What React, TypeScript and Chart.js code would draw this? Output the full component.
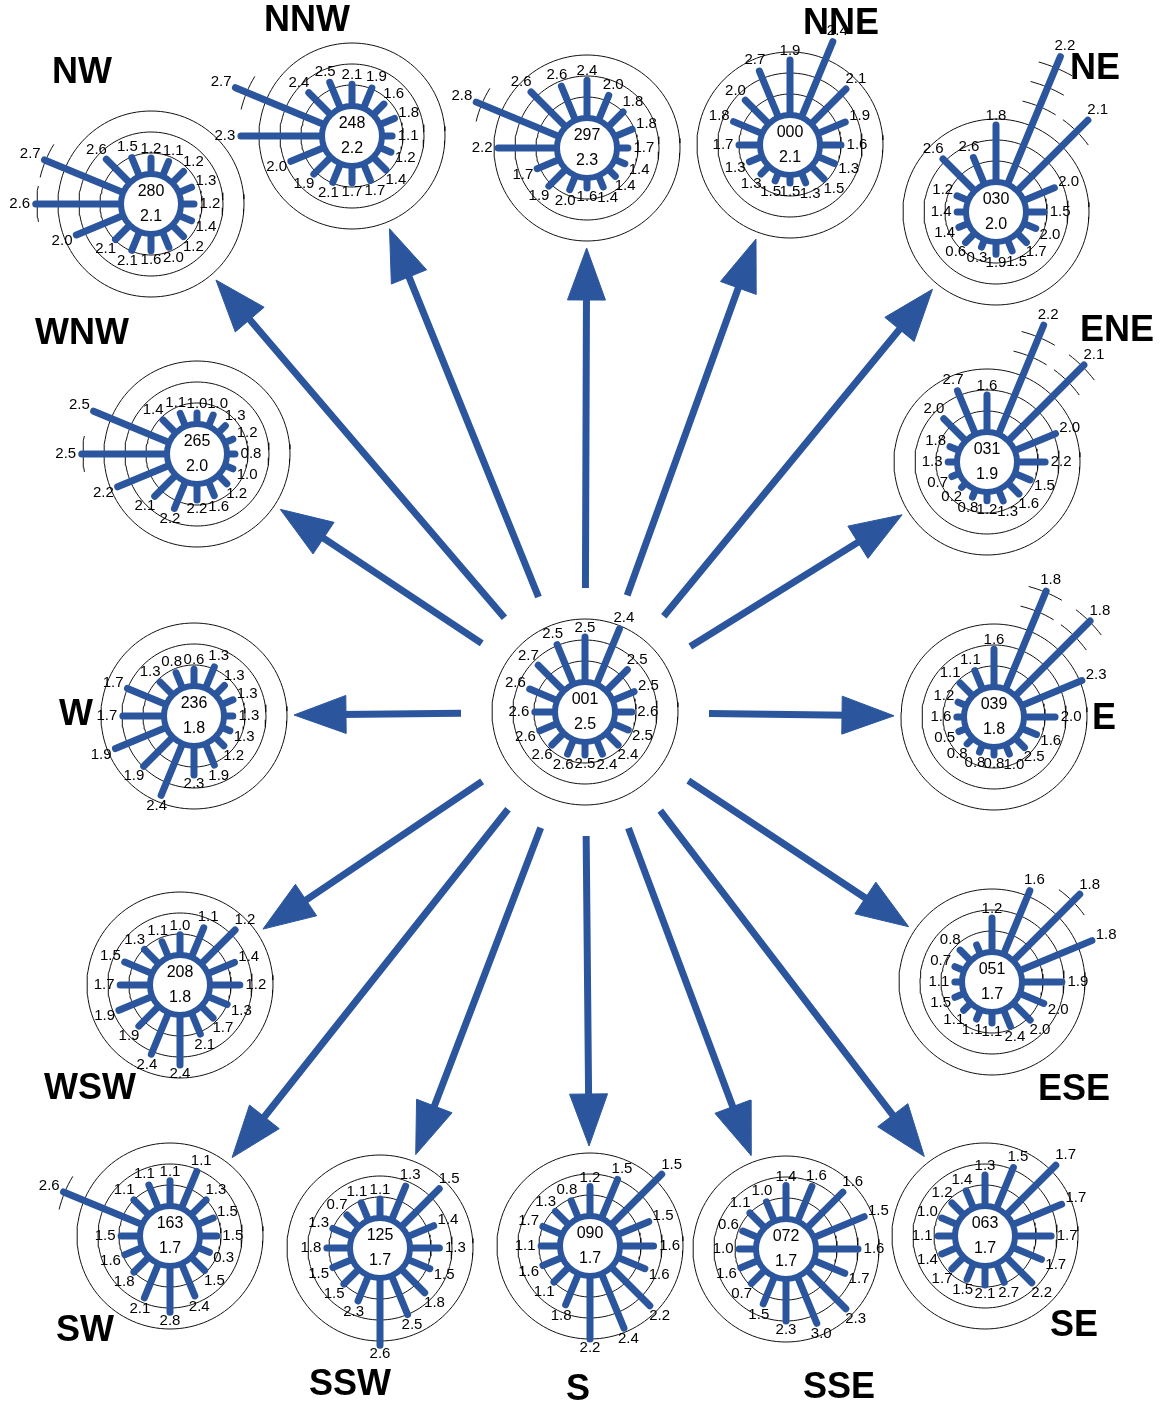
import React, { useEffect, useRef } from 'react';
import { Chart, registerables } from 'chart.js';

Chart.register(...registerables);

const BLUE = '#2b569e';
const FONT = '"Liberation Sans", Arial, sans-serif';

// 16 spoke directions, clockwise from north
const compass16 = ['N', 'NNE', 'NE', 'ENE', 'E', 'ESE', 'SE', 'SSE', 'S', 'SSW', 'SW', 'WSW', 'W', 'WNW', 'NW', 'NNW'];

// roses: central one, then the surrounding ones
const roseKeys = ['C', 'NW', 'NNW', 'N', 'NNE', 'NE', 'ENE', 'E', 'ESE', 'SE', 'SSE', 'S', 'SSW', 'SW', 'WSW', 'W', 'WNW'];
const roseCodes = ['001', '280', '248', '297', '000', '030', '031', '039', '051', '063', '072', '090', '125', '163', '208', '236', '265'];
const roseMeans = [2.5, 2.1, 2.2, 2.3, 2.1, 2.0, 1.9, 1.8, 1.7, 1.7, 1.7, 1.7, 1.7, 1.7, 1.8, 1.8, 2.0];

// mean speed per direction (N .. NNW) and frequency (%) per direction
const speedC = [2.5, 2.4, 2.5, 2.5, 2.6, 2.5, 2.4, 2.4, 2.5, 2.6, 2.6, 2.6, 2.6, 2.6, 2.7, 2.5];
const freqC = [10.7, 14.3, 7.1, 5.5, 4, 4, 4, 3.7, 3.1, 3.7, 4, 4.5, 4.8, 7.1, 8.6, 10.2];

const speedNW = [1.2, 1.1, 1.2, 1.3, 1.2, 1.4, 1.2, 2.0, 1.6, 2.1, 2.1, 2.0, 2.6, 2.7, 2.6, 1.5];
const freqNW = [3.8, 3.8, 3.8, 3.3, 3.1, 3.3, 3.8, 4, 4, 4.8, 4.8, 12.1, 20.3, 20.3, 7.9, 4.8];

const speedNNW = [2.1, 1.9, 1.6, 1.8, 1.1, 1.2, 1.4, 1.7, 1.7, 2.1, 1.9, 2.0, 2.3, 2.7, 2.4, 2.5];
const freqNNW = [5.2, 5.2, 3.6, 3.8, 2.4, 2.9, 4.3, 4.3, 4, 4.8, 5.7, 8.6, 19.3, 22.9, 7.4, 6.7];

const speedN = [2.4, 2.0, 1.8, 1.8, 1.7, 1.4, 1.4, 1.4, 1.6, 2.0, 1.9, 1.7, 2.2, 2.8, 2.6, 2.6];
const freqN = [9, 6.4, 5, 4.5, 2.6, 2.6, 2.4, 2.9, 2.4, 3.6, 5.7, 5.7, 14, 21.4, 11.7, 8.8];

const speedNNE = [1.9, 2.4, 2.1, 1.9, 1.6, 1.3, 1.5, 1.3, 1.5, 1.5, 1.3, 1.3, 1.7, 1.8, 2.0, 2.7];
const freqNNE = [13.1, 19.5, 11.7, 7.1, 5, 4.3, 4.3, 2.6, 1.9, 2.1, 2.6, 3.3, 5, 7.4, 7.9, 11.9];

const speedNE = [1.8, 2.2, 2.1, 2.0, 1.5, 2.0, 1.7, 1.5, 1.9, 0.3, 0.6, 1.4, 1.4, 1.2, 2.6, 2.6];
const freqNE = [13.6, 32.9, 23.8, 7.9, 4.3, 3.1, 3.1, 2.9, 2.9, 1.9, 3.1, 2.4, 2.1, 2.9, 10.7, 6.9];

const speedENE = [1.6, 2.2, 2.1, 2.0, 2.2, 1.5, 1.6, 1.3, 1.2, 0.8, 0.2, 0.7, 1.3, 1.8, 2.0, 2.7];
const freqENE = [8.8, 28.1, 25.5, 10.5, 6.7, 4, 3.6, 2.9, 2.1, 1.9, 1.4, 1.9, 2.1, 2.4, 7.4, 11.2];

const speedE = [1.6, 1.8, 1.8, 2.3, 2.0, 1.6, 2.5, 1.0, 0.8, 0.8, 0.8, 0.5, 1.6, 1.2, 1.1, 1.1];
const freqE = [9, 25.3, 25.2, 15.5, 7.4, 3.8, 3.1, 2.4, 1.9, 1.9, 1.9, 1.9, 1.7, 2.1, 4.3, 4.8];

const speedESE = [1.2, 1.6, 1.8, 1.8, 1.9, 2.0, 2.0, 2.4, 1.1, 1.1, 1.1, 1.5, 1.1, 0.7, 0.8, null];
const freqESE = [8.1, 16.4, 22.4, 18.6, 9.5, 6.2, 5.7, 4.3, 2.6, 2.4, 2.4, 2.4, 1.7, 2.4, 3.6, 2.4];

const speedSE = [1.3, 1.5, 1.7, 1.7, 1.7, 1.7, 2.2, 2.7, 2.1, 1.5, 1.7, 1.4, 1.1, 1.0, 1.2, 1.4];
const freqSE = [7.4, 10.5, 16.7, 12.6, 8.6, 7.4, 8.6, 4.8, 4.5, 4, 4, 4, 4, 4, 4, 4.5];

const speedSSE = [1.4, 1.6, 1.6, 1.5, 1.6, 1.7, 2.3, 3.0, 2.3, 1.5, 0.7, 1.6, 1.0, 0.6, 1.1, 1.0];
const freqSSE = [8, 9, 12, 13, 10, 8, 13, 12, 10, 7, 4.5, 4.5, 4, 4, 5, 5];

const speedS = [1.2, 1.5, 1.5, 1.5, 1.6, 1.6, 2.2, 2.4, 2.2, 1.8, 1.1, 1.6, 1.1, 1.7, 1.3, 0.8];
const freqS = [7, 10, 17, 8, 8, 7, 13, 14, 15, 8, 5, 5, 4.5, 5, 4.5, 4.5];

const speedSSW = [1.1, 1.3, 1.5, 1.4, 1.3, 1.5, 1.8, 2.5, 2.6, 2.3, 1.5, 1.5, 1.8, 1.3, 0.7, 1.1];
const freqSSW = [4.5, 8.8, 12.8, 6.7, 7, 5.7, 7.9, 10, 16, 6.5, 5, 5, 5.5, 5, 4, 4.5];

const speedSW = [1.1, 1.1, 1.3, 1.5, 1.5, 0.3, 1.5, 2.4, 2.8, 2.1, 1.8, 1.6, 1.5, 2.6, 1.1, 1.1];
const freqSW = [6, 9.5, 5, 4, 4, 3, 4.5, 8.3, 11, 8.8, 5, 4.5, 4.5, 20.3, 5, 6];

const speedWSW = [1.0, 1.1, 1.2, 1.4, 1.2, 1.3, 1.7, 2.1, 2.4, 2.4, 1.9, 1.9, 1.7, 1.5, 1.3, 1.1];
const freqWSW = [4.8, 7.6, 11.4, 6.9, 7.1, 5, 4, 5.5, 11.9, 10.7, 6.7, 8.6, 7.1, 7.1, 4.8, 4];

const speedW = [0.6, 1.3, 1.3, 1.3, 1.3, 1.3, 1.2, 1.9, 2.3, 2.4, 1.9, 1.9, 1.7, 1.7, 1.3, 0.8];
const freqW = [4, 5.5, 3.1, 2.9, 2.1, 2.1, 2.9, 5.5, 6.9, 13.3, 9.8, 13.1, 9.8, 10, 4.3, 4];

const speedWNW = [1.0, 1.0, 1.3, 1.2, 0.8, 1.0, 1.2, 1.6, 2.2, 2.2, 2.1, 2.2, 2.5, 2.5, 1.4, 1.1];
const freqWNW = [2.6, 2.9, 2.4, 2.1, 1.9, 2.1, 2.9, 3.6, 3.8, 6.9, 7.1, 13.3, 20.3, 19.5, 4.3, 3.3];

const roseSpeeds = [speedC, speedNW, speedNNW, speedN, speedNNE, speedNE, speedENE, speedE, speedESE, speedSE, speedSSE, speedS, speedSSW, speedSW, speedWSW, speedW, speedWNW];
const roseFreqs = [freqC, freqNW, freqNNW, freqN, freqNNE, freqNE, freqENE, freqE, freqESE, freqSE, freqSSE, freqS, freqSSW, freqSW, freqWSW, freqW, freqWNW];

// frequency rings drawn around each rose (%)
const ringLevels = [5, 10, 15];
const tickStep = 5;

// ---------- layout (page pixels) ----------
const roseCenters: [number, number][] = [
  [585, 712], [151, 204], [352, 136], [587, 148], [790, 145], [996, 212], [987, 462], [994, 717],
  [992, 982], [985, 1236], [786, 1249], [590, 1246], [380, 1248], [170, 1236], [180, 985], [194, 716], [197, 454],
];
const dirLabels: { t: string; x: number; y: number }[] = [
  { t: 'NW', x: 82, y: 73 }, { t: 'NNW', x: 307, y: 21 }, { t: 'NNE', x: 841, y: 24 }, { t: 'NE', x: 1095, y: 69 },
  { t: 'WNW', x: 82, y: 334 }, { t: 'ENE', x: 1117, y: 331 }, { t: 'W', x: 76, y: 715 }, { t: 'E', x: 1104, y: 719 },
  { t: 'WSW', x: 90, y: 1089 }, { t: 'ESE', x: 1074, y: 1090 }, { t: 'SW', x: 85, y: 1331 }, { t: 'SSW', x: 350, y: 1385 },
  { t: 'S', x: 578, y: 1390 }, { t: 'SSE', x: 839, y: 1388 }, { t: 'SE', x: 1074, y: 1326 },
];
const HUB_R = 30;
const PX_PER_PCT = 4.2;
const ARROW_START = 124;
const ARROW_END = 100;
const HEAD_LEN = 52;
const HEAD_HALF = 19;

const rad = (f: number) => HUB_R + f * PX_PER_PCT;
function polar(cx: number, cy: number, r: number, deg: number) {
  const a = (deg * Math.PI) / 180;
  return { x: cx + r * Math.sin(a), y: cy - r * Math.cos(a) };
}
const GAP = { x: null as any, y: null as any };

function buildDatasets() {
  const rings: any[] = [];
  const ticks: any[] = [];
  const spokes: any[] = [];
  const hubs: any[] = [];
  const shafts: any[] = [];
  const heads: any[] = [];
  roseCenters.forEach(([cx, cy], k) => {
    ringLevels.forEach((f) => {
      for (let j = 0; j <= 120; j++) rings.push(polar(cx, cy, rad(f), j * 3));
      rings.push(GAP);
    });
    roseFreqs[k].forEach((f, i) => {
      const ang = i * (360 / compass16.length);
      spokes.push(polar(cx, cy, HUB_R - 3, ang), polar(cx, cy, rad(f), ang), GAP);
      for (let t = ringLevels[ringLevels.length - 1] + tickStep; t <= f; t += tickStep) {
        const R = rad(t);
        const half = ((18 / R) * 180) / Math.PI;
        for (let s = -4; s <= 4; s++) ticks.push(polar(cx, cy, R, ang + (s * half) / 4));
        ticks.push(GAP);
      }
    });
    hubs.push({ x: cx, y: cy });
  });
  const [ox, oy] = roseCenters[0];
  roseCenters.slice(1).forEach(([tx, ty]) => {
    const dx = tx - ox, dy = ty - oy;
    const L = Math.hypot(dx, dy);
    const ux = dx / L, uy = dy / L;
    const nx = -uy, ny = ux;
    const start = { x: ox + ux * ARROW_START, y: oy + uy * ARROW_START };
    const tip = { x: tx - ux * ARROW_END, y: ty - uy * ARROW_END };
    const base = { x: tip.x - ux * HEAD_LEN, y: tip.y - uy * HEAD_LEN };
    shafts.push(start, { x: base.x + ux * 6, y: base.y + uy * 6 }, GAP);
    heads.push(tip, { x: base.x + nx * HEAD_HALF, y: base.y + ny * HEAD_HALF }, { x: base.x - nx * HEAD_HALF, y: base.y - ny * HEAD_HALF }, tip, GAP);
  });
  const line = { showLine: true, pointRadius: 0, pointHitRadius: 0, pointHoverRadius: 0, spanGaps: false, fill: false };
  return [
    { ...line, label: 'rings', data: rings, borderColor: '#111', borderWidth: 1, order: 6 },
    { ...line, label: 'ticks', data: ticks, borderColor: '#111', borderWidth: 1, order: 5 },
    { ...line, label: 'shafts', data: shafts, borderColor: BLUE, borderWidth: 7, order: 4 },
    { ...line, label: 'heads', data: heads, borderColor: BLUE, backgroundColor: BLUE, borderWidth: 1, fill: 'shape', order: 3 },
    { ...line, label: 'spokes', data: spokes, borderColor: BLUE, borderWidth: 7, borderCapStyle: 'round', order: 2 },
    {
      label: 'hubs', data: hubs, showLine: false, pointRadius: 30, pointHoverRadius: 30, pointBorderWidth: 6,
      pointBorderColor: BLUE, pointBackgroundColor: '#ffffff', order: 1,
    },
  ];
}

const textPlugin = {
  id: 'roseText',
  afterDatasetsDraw(chart: any) {
    const { ctx } = chart;
    const xs = chart.scales.x, ys = chart.scales.y;
    ctx.save();
    ctx.fillStyle = '#000';
    ctx.textAlign = 'center';
    ctx.textBaseline = 'middle';
    roseCenters.forEach(([cx, cy], k) => {
      const px = xs.getPixelForValue(cx), py = ys.getPixelForValue(cy);
      ctx.font = `16px ${FONT}`;
      ctx.fillText(roseCodes[k], px, py - 12);
      ctx.fillText(roseMeans[k].toFixed(1), px, py + 13);
      ctx.font = `15px ${FONT}`;
      roseSpeeds[k].forEach((s, i) => {
        if (s == null) return;
        const ang = i * (360 / compass16.length);
        const off = 9 + 7 * Math.abs(Math.sin((ang * Math.PI) / 180));
        const p = polar(cx, cy, rad(roseFreqs[k][i]) + off, ang);
        ctx.fillText(s.toFixed(1), xs.getPixelForValue(p.x), ys.getPixelForValue(p.y));
      });
    });
    ctx.font = `bold 36px ${FONT}`;
    dirLabels.forEach((d) => ctx.fillText(d.t, xs.getPixelForValue(d.x), ys.getPixelForValue(d.y)));
    ctx.restore();
  },
};

export default function App() {
  const ref = useRef<HTMLCanvasElement>(null);
  useEffect(() => {
    document.body.style.margin = '0';
    const chart = new Chart(ref.current as HTMLCanvasElement, {
      type: 'scatter',
      data: { datasets: buildDatasets() as any },
      options: {
        responsive: false,
        maintainAspectRatio: false,
        animation: false,
        devicePixelRatio: 1,
        events: [],
        layout: { padding: 0, autoPadding: false },
        plugins: { legend: { display: false }, tooltip: { enabled: false } },
        scales: {
          x: { type: 'linear', min: 0, max: 1163, display: false },
          y: { type: 'linear', min: 0, max: 1408, reverse: true, display: false },
        },
      },
      plugins: [textPlugin],
    });
    return () => chart.destroy();
  }, []);
  return (
    <div style={{ width: 1163, height: 1408, background: '#fff' }}>
      <canvas ref={ref} width={1163} height={1408} />
    </div>
  );
}
